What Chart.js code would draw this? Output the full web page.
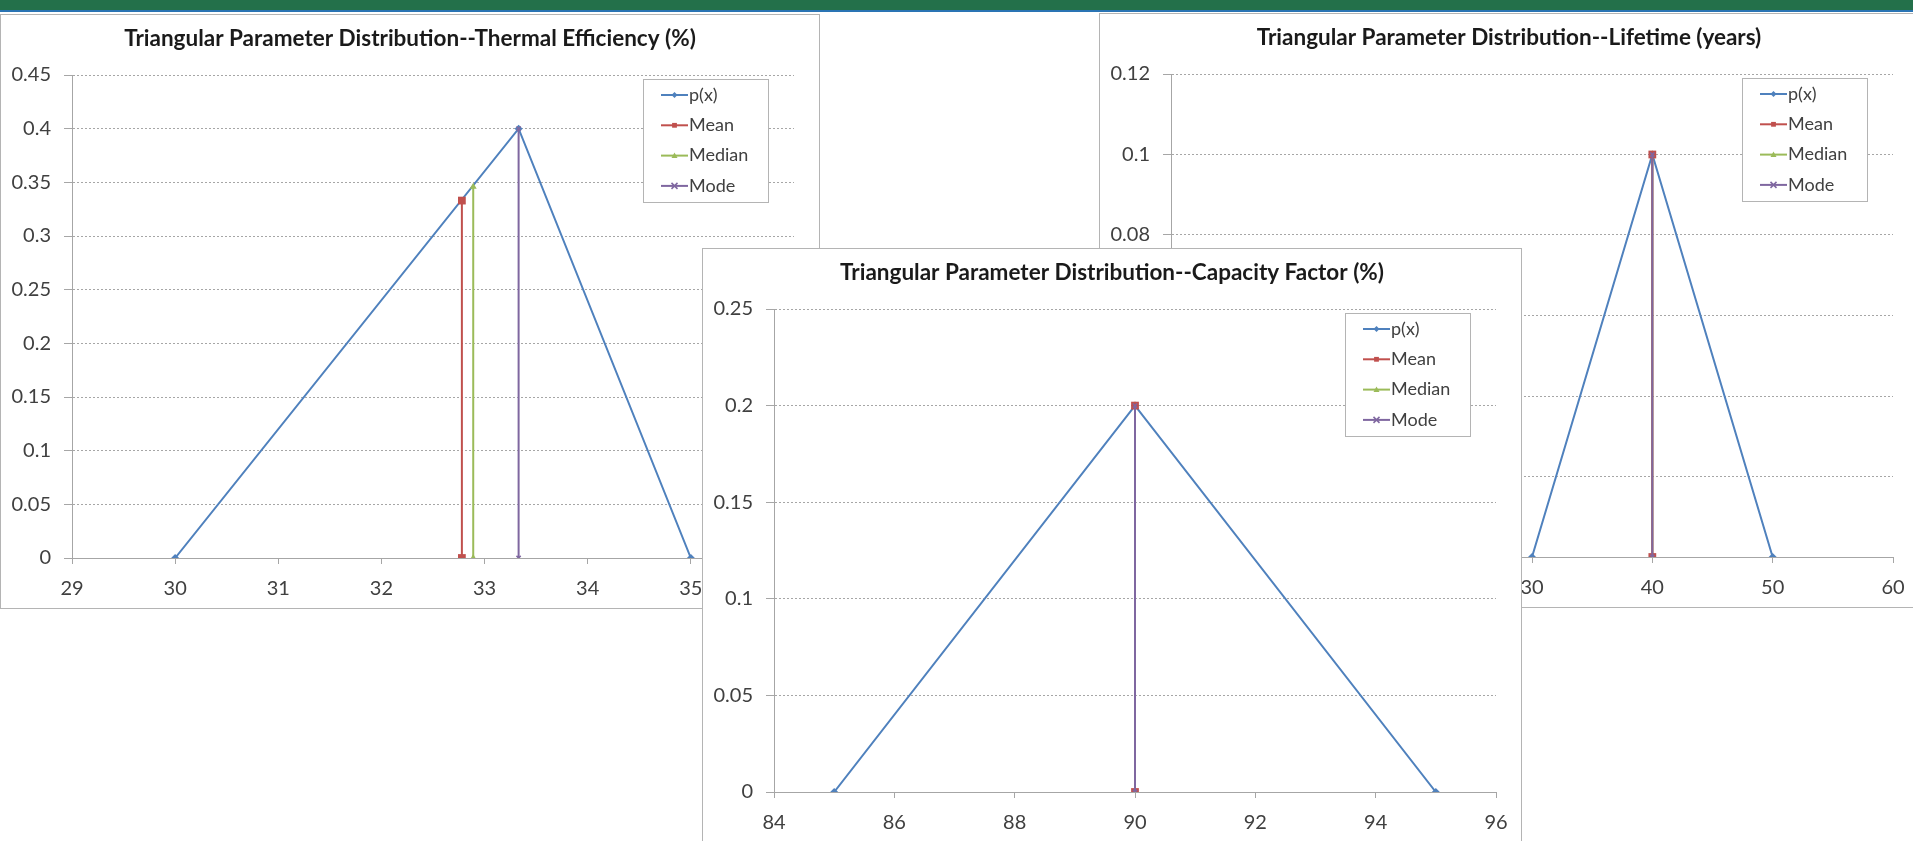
<!DOCTYPE html>
<html>
<head>
<meta charset="utf-8">
<title>Triangular Parameter Distributions</title>
<script src="https://cdn.jsdelivr.net/npm/chart.js@4.4.1/dist/chart.umd.min.js"></script>
<style>
    html, body { margin: 0; padding: 0; width: 1913px; height: 841px; overflow: hidden; background: #fff; }
    .bandeau { position: absolute; left: 0; top: 0; width: 1913px; height: 10px; background: #23704a; border-bottom: 2px solid #2a74b4; }
    .cadre { position: absolute; width: 820px; height: 595px; box-sizing: border-box; border: 1px solid #b4b4b4; background: #fff; }
    .cadre canvas { display: block; }
</style>
</head>
<body>
<div class="bandeau"></div>
<div class="cadre" style="left:0;top:14px;z-index:1"><canvas id="graph-rendement" width="818" height="593"></canvas></div>
<div class="cadre" style="left:1099px;top:13px;z-index:1"><canvas id="graph-duree" width="818" height="593"></canvas></div>
<div class="cadre" style="left:702px;top:248px;z-index:2"><canvas id="graph-charge" width="818" height="593"></canvas></div>

<script>
/* ─── Données ──────────────────────────────────────────────────── */
const SERIES = ['p(x)', 'Mean', 'Median', 'Mode'];

// Thermal Efficiency (%)
const effPdfX    = [30, 33.33, 35];
const effPdfY    = [0, 0.4, 0];
const effMeanX   = [32.78, 32.78];
const effMeanY   = [0, 0.333];
const effMedianX = [32.89, 32.89];
const effMedianY = [0, 0.346];
const effModeX   = [33.33, 33.33];
const effModeY   = [0, 0.4];
const effTicksX  = [29, 30, 31, 32, 33, 34, 35, 36];
const effTicksY  = [0, 0.05, 0.1, 0.15, 0.2, 0.25, 0.3, 0.35, 0.4, 0.45];

// Lifetime (years)
const viePdfX    = [30, 40, 50];
const viePdfY    = [0, 0.1, 0];
const vieMeanX   = [40, 40];
const vieMeanY   = [0, 0.1];
const vieMedianX = [40, 40];
const vieMedianY = [0, 0.1];
const vieModeX   = [40, 40];
const vieModeY   = [0, 0.1];
const vieTicksX  = [0, 10, 20, 30, 40, 50, 60];
const vieTicksY  = [0, 0.02, 0.04, 0.06, 0.08, 0.1, 0.12];

// Capacity Factor (%)
const capPdfX    = [85, 90, 95];
const capPdfY    = [0, 0.2, 0];
const capMeanX   = [90, 90];
const capMeanY   = [0, 0.2];
const capMedianX = [90, 90];
const capMedianY = [0, 0.2];
const capModeX   = [90, 90];
const capModeY   = [0, 0.2];
const capTicksX  = [84, 86, 88, 90, 92, 94, 96];
const capTicksY  = [0, 0.05, 0.1, 0.15, 0.2, 0.25];

/* ─── Styles ───────────────────────────────────────────────────── */
const COULEURS = ['#4f81bd', '#c0504d', '#9bbb59', '#7f67a0'];
const MARQUEURS = ['rectRot', 'rect', 'triangle', 'crossRot'];
const RAYONS = [4, 5.5, 4, 3];
const ORDRES = [3, 1, 2, 0];   // Mode au-dessus, p(x) en dessous
const GRIS = '#a6a6a6';
const TEXTE = '#404040';

Chart.defaults.font.family = 'Lato, "Open Sans", sans-serif';

function fmt(v) {
    return String(+Number(v).toFixed(4));
}

function points(xs, ys) {
    return xs.map((x, i) => ({ x, y: ys[i] }));
}

function dessinerMarqueur(ctx, style, x, y, r, couleur) {
    ctx.save();
    ctx.fillStyle = couleur;
    ctx.strokeStyle = couleur;
    ctx.lineWidth = 1.5;
    ctx.beginPath();
    if (style === 'rectRot') {
        ctx.moveTo(x, y - r); ctx.lineTo(x + r, y); ctx.lineTo(x, y + r); ctx.lineTo(x - r, y);
        ctx.closePath(); ctx.fill();
    } else if (style === 'rect') {
        ctx.rect(x - r * 0.8, y - r * 0.8, r * 1.6, r * 1.6); ctx.fill();
    } else if (style === 'triangle') {
        ctx.moveTo(x, y - r); ctx.lineTo(x + r, y + r * 0.8); ctx.lineTo(x - r, y + r * 0.8);
        ctx.closePath(); ctx.fill();
    } else {
        ctx.moveTo(x - r, y - r); ctx.lineTo(x + r, y + r);
        ctx.moveTo(x + r, y - r); ctx.lineTo(x - r, y + r); ctx.stroke();
    }
    ctx.restore();
}

/* Légende encadrée dans la zone de tracé, comme dans Excel */
const legendeInterne = {
    id: 'legendeInterne',
    afterDatasetsDraw(chart) {
        const ctx = chart.ctx;
        const bx = 642, by = 64, bw = 125, bh = 123;
        ctx.save();
        ctx.fillStyle = '#fff';
        ctx.fillRect(bx, by, bw, bh);
        ctx.strokeStyle = '#b4b4b4';
        ctx.lineWidth = 1;
        ctx.strokeRect(bx + 0.5, by + 0.5, bw, bh);
        ctx.font = '18px Lato, "Open Sans", sans-serif';
        ctx.textBaseline = 'middle';
        chart.data.datasets.forEach((ds, i) => {
            const y = by + 16 + i * 30.3;
            ctx.strokeStyle = ds.borderColor;
            ctx.lineWidth = 2;
            ctx.beginPath();
            ctx.moveTo(bx + 18, y);
            ctx.lineTo(bx + 45, y);
            ctx.stroke();
            dessinerMarqueur(ctx, ds.pointStyle, bx + 31.5, y, 3, ds.borderColor);
            ctx.fillStyle = TEXTE;
            ctx.fillText(ds.label, bx + 46, y);
        });
        ctx.restore();
    },
};

function creerGraphique(id, titre, series, ticksX, ticksY) {
    const datasets = series.map((s, i) => ({
        label: SERIES[i],
        data: points(s[0], s[1]),
        showLine: true,
        borderColor: COULEURS[i],
        backgroundColor: COULEURS[i],
        borderWidth: 2,
        pointStyle: MARQUEURS[i],
        pointRadius: RAYONS[i],
        pointBorderWidth: i === 3 ? 1.5 : 0,
        order: ORDRES[i],
    }));

    return new Chart(document.getElementById(id), {
        type: 'scatter',
        data: { datasets },
        plugins: [legendeInterne],
        options: {
            responsive: false,
            animation: false,
            layout: { padding: 0 },
            plugins: {
                legend: { display: false },
                tooltip: { enabled: false },
                title: {
                    display: true,
                    text: titre,
                    color: '#1a1a1a',
                    font: { size: 22.5, weight: 'bold', lineHeight: 1.2 },
                    padding: { top: 10, bottom: 23 },
                },
            },
            scales: {
                x: {
                    type: 'linear',
                    min: ticksX[0],
                    max: ticksX[ticksX.length - 1],
                    afterBuildTicks: sc => { sc.ticks = ticksX.map(v => ({ value: v })); },
                    afterFit: sc => { sc.height = 50; },
                    grid: { drawOnChartArea: false, tickLength: 6, color: GRIS },
                    border: { color: GRIS, width: 1 },
                    ticks: { callback: fmt, color: TEXTE, font: { size: 20 }, padding: 13, maxRotation: 0, autoSkip: false },
                },
                y: {
                    type: 'linear',
                    min: ticksY[0],
                    max: ticksY[ticksY.length - 1],
                    afterBuildTicks: sc => { sc.ticks = ticksY.map(v => ({ value: v })); },
                    afterFit: sc => { sc.width = 71; },
                    grid: { color: GRIS, tickLength: 8, tickColor: GRIS },
                    border: { color: GRIS, width: 1, dash: [2, 2] },
                    ticks: { callback: fmt, color: TEXTE, font: { size: 20 }, padding: 13, autoSkip: false },
                },
                // axe vide à droite : réserve la marge sans décentrer le titre
                marge: {
                    type: 'linear',
                    position: 'right',
                    min: 0,
                    max: 1,
                    grid: { display: false },
                    border: { display: false },
                    ticks: { display: false },
                    afterFit: sc => { sc.width = 25; },
                },
            },
        },
    });
}

creerGraphique('graph-rendement', 'Triangular Parameter Distribution--Thermal Efficiency (%)',
    [[effPdfX, effPdfY], [effMeanX, effMeanY], [effMedianX, effMedianY], [effModeX, effModeY]],
    effTicksX, effTicksY);

creerGraphique('graph-duree', 'Triangular Parameter Distribution--Lifetime (years)',
    [[viePdfX, viePdfY], [vieMeanX, vieMeanY], [vieMedianX, vieMedianY], [vieModeX, vieModeY]],
    vieTicksX, vieTicksY);

creerGraphique('graph-charge', 'Triangular Parameter Distribution--Capacity Factor (%)',
    [[capPdfX, capPdfY], [capMeanX, capMeanY], [capMedianX, capMedianY], [capModeX, capModeY]],
    capTicksX, capTicksY);
</script>
</body>
</html>
